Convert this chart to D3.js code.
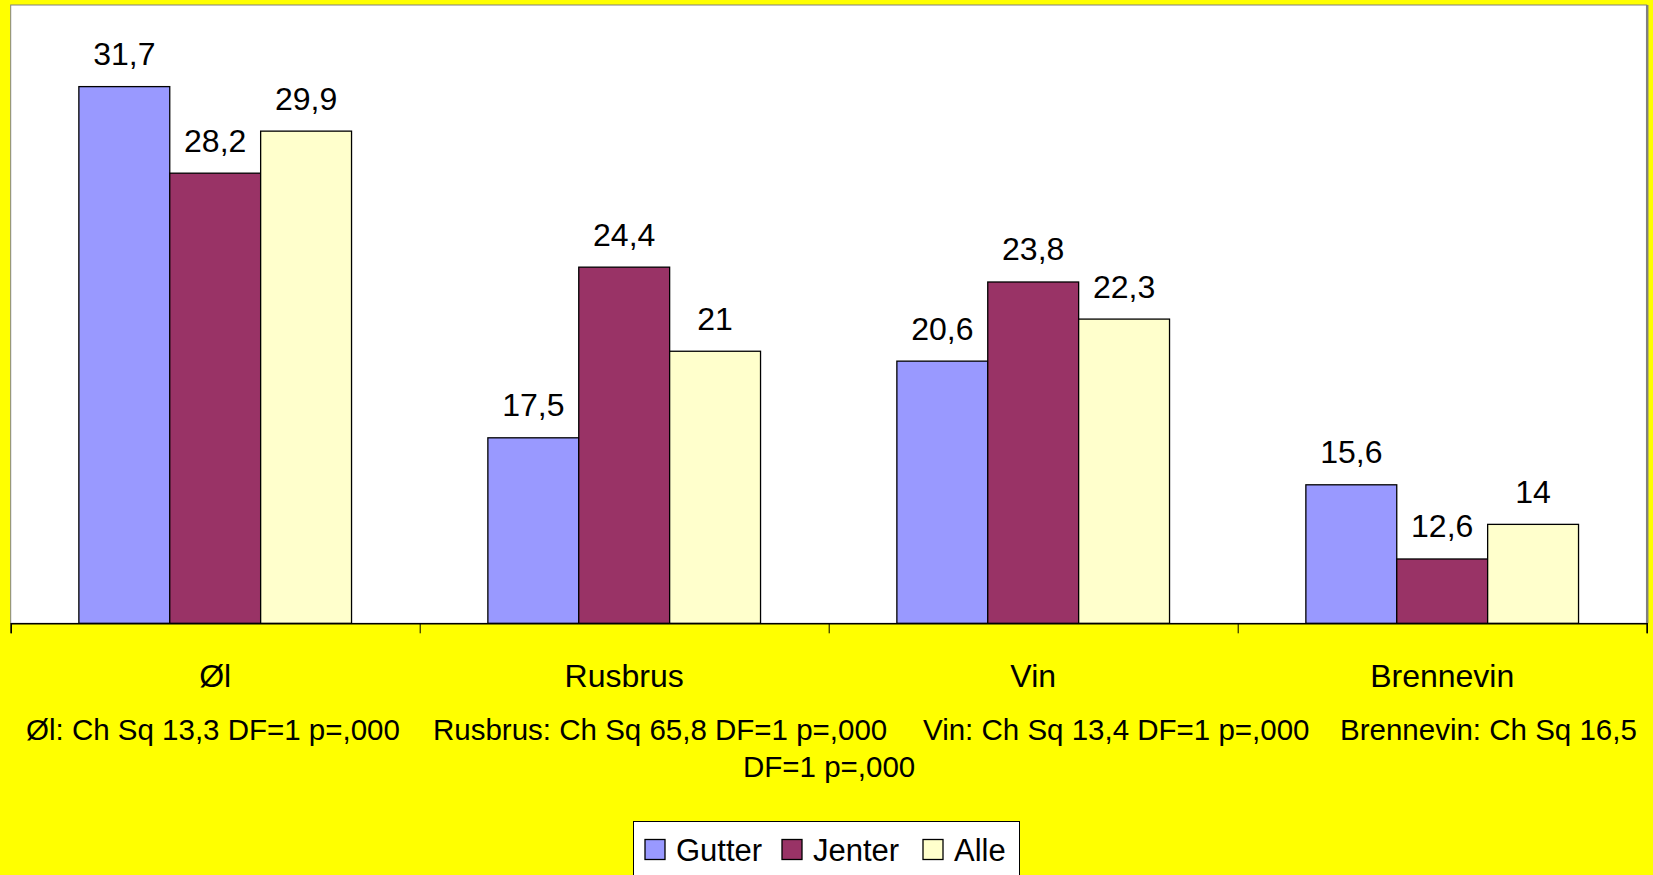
<!DOCTYPE html>
<html>
<head>
<meta charset="utf-8">
<script src="https://cdn.jsdelivr.net/npm/d3@7"></script>
<style>
  body { margin: 0; background: #ffff00; overflow: hidden; }
  text { font-family: "Liberation Sans", Arial, sans-serif; fill: #000; }
</style>
</head>
<body>
<div id="chart"></div>
<script>
// data
var categories = ["Øl", "Rusbrus", "Vin", "Brennevin"];
var seriesNames = ["Gutter", "Jenter", "Alle"];
var gutter = [31.7, 17.5, 20.6, 15.6];
var jenter = [28.2, 24.4, 23.8, 12.6];
var alle = [29.9, 21, 22.3, 14];
var statLines = ["Øl: Ch Sq 13,3 DF=1 p=,000", "Rusbrus: Ch Sq 65,8 DF=1 p=,000",
                 "Vin: Ch Sq 13,4 DF=1 p=,000", "Brennevin: Ch Sq 16,5"];
var statWrap = "DF=1 p=,000";
var yDomain = [10, 35];

var W = 1653, H = 875;
var colors = ["#9999ff", "#993366", "#ffffcc"];
var values = [gutter, jenter, alle];

// plot area (don't call it top, window.top is taken)
var pl = {left: 10.7, right: 1646.7, top: 5, bottom: 623.3};

var svg = d3.select("#chart").append("svg")
  .attr("width", W).attr("height", H);

svg.append("rect").attr("width", W).attr("height", H).attr("fill", "#ffff00");

svg.append("rect")
  .attr("x", pl.left).attr("y", pl.top)
  .attr("width", pl.right - pl.left).attr("height", pl.bottom - pl.top)
  .attr("fill", "#fff").attr("stroke", "#808080").attr("stroke-width", 1);
// darker right edge
svg.append("line")
  .attr("x1", pl.right + 0.5).attr("x2", pl.right + 0.5).attr("y1", pl.top).attr("y2", pl.bottom)
  .attr("stroke", "#808080").attr("stroke-width", 2.5);

var x = d3.scaleBand().domain(categories).range([pl.left, pl.right]).padding(0);
var xs = d3.scaleBand().domain(seriesNames).range([0, x.bandwidth()])
  .paddingInner(0).paddingOuter(0.75);
var y = d3.scaleLinear().domain(yDomain).range([pl.bottom, pl.top]);

// bars
var rows = [];
categories.forEach(function(c, i) {
  seriesNames.forEach(function(s, j) {
    rows.push({cat: c, ser: s, v: values[j][i], col: colors[j]});
  });
});

function fmt(v) { return String(v).replace(".", ","); }

svg.selectAll("rect.bar")
  .data(rows)
  .enter().append("rect")
  .attr("class", "bar")
  .attr("x", function(d) { return x(d.cat) + xs(d.ser); })
  .attr("y", function(d) { return y(d.v); })
  .attr("width", xs.bandwidth())
  .attr("height", function(d) { return pl.bottom - y(d.v); })
  .attr("fill", function(d) { return d.col; })
  .attr("stroke", "#000").attr("stroke-width", 1.3);

svg.selectAll("text.val")
  .data(rows)
  .enter().append("text")
  .attr("class", "val")
  .attr("x", function(d) { return x(d.cat) + xs(d.ser) + xs.bandwidth() / 2; })
  .attr("y", function(d) { return y(d.v) - 21.5; })
  .attr("text-anchor", "middle")
  .attr("font-size", "32px")
  .text(function(d) { return fmt(d.v); });

// category axis, ticks on the group boundaries
var xb = d3.scaleLinear().domain([0, categories.length]).range([pl.left, pl.right]);
var xAxis = d3.axisBottom(xb).ticks(categories.length).tickSize(10).tickFormat("");
var ax = svg.append("g").attr("transform", "translate(0," + pl.bottom + ")").call(xAxis);
ax.select(".domain").attr("stroke", "#000").attr("stroke-width", 1.5);
ax.selectAll(".tick line").attr("stroke", "#000");

svg.selectAll("text.cat")
  .data(categories)
  .enter().append("text")
  .attr("class", "cat")
  .attr("x", function(d) { return x(d) + x.bandwidth() / 2; })
  .attr("y", 687)
  .attr("text-anchor", "middle")
  .attr("font-size", "32px")
  .text(function(d) { return d; });

// chi-square notes (placed where Excel put them)
var statX = [26, 433, 923, 1340];
svg.selectAll("text.stat")
  .data(statLines)
  .enter().append("text")
  .attr("class", "stat")
  .attr("x", function(d, i) { return statX[i]; })
  .attr("y", 740)
  .attr("font-size", "29.5px")
  .text(function(d) { return d; });

svg.append("text")
  .attr("x", 743).attr("y", 777)
  .attr("font-size", "29.5px")
  .text(statWrap);

// legend
var lg = svg.append("g");
lg.append("rect")
  .attr("x", 633.5).attr("y", 821.5).attr("width", 386).attr("height", 70)
  .attr("fill", "#fff").attr("stroke", "#000").attr("stroke-width", 1);
var legX = [645, 782, 923];
seriesNames.forEach(function(s, j) {
  lg.append("rect")
    .attr("x", legX[j]).attr("y", 839.5).attr("width", 20).attr("height", 20)
    .attr("fill", colors[j]).attr("stroke", "#000").attr("stroke-width", 1.3);
  lg.append("text")
    .attr("x", legX[j] + 31).attr("y", 861)
    .attr("font-size", "31px")
    .text(s);
});
</script>
</body>
</html>
